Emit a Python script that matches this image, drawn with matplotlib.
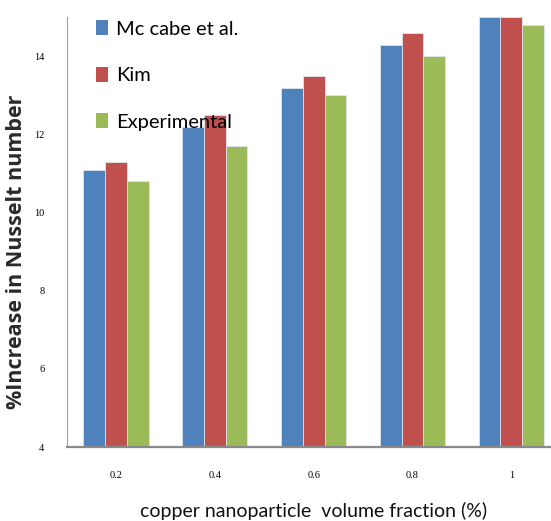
import matplotlib
matplotlib.use("Agg")
import matplotlib.pyplot as plt
import numpy as np
from matplotlib.patches import Patch

categories = ["0.2", "0.4", "0.6", "0.8", "1"]
mccabe = [11.1, 12.2, 13.2, 14.3, 15.0]
kim = [11.3, 12.5, 13.5, 14.6, 15.0]
experimental = [10.8, 11.7, 13.0, 14.0, 14.8]
series_names = ["Mc cabe et al.", "Kim", "Experimental"]
colors = ["#4F81BD", "#C0504D", "#9BBB59"]
yticks = [4, 6, 8, 10, 12, 14]

fig = plt.figure(figsize=(5.51, 5.21), dpi=100)
ax = fig.add_axes([0.121, 0.142, 0.8966, 0.825])

x = np.arange(len(categories))
w = 0.22
for i, (vals, c) in enumerate(zip([mccabe, kim, experimental], colors)):
    ax.bar(x + (i - 1) * w, vals, width=w, color=c, edgecolor="#dfe6ee",
           linewidth=0.6, zorder=2)

ax.set_xlim(-0.5, 4.5)
ax.set_ylim(4, 15)
ax.set_yticks(yticks)
ax.set_yticklabels([str(t) for t in yticks], fontsize=7.5, family="Liberation Serif")
ax.set_xticks(x)
ax.set_xticklabels(categories, fontsize=7.5, family="Liberation Serif")
ax.tick_params(axis="x", length=0, pad=17)
ax.tick_params(axis="y", length=0, pad=16)

for s in ["top", "right"]:
    ax.spines[s].set_visible(False)
ax.spines["left"].set_color("#a0a0a0")
ax.spines["left"].set_linewidth(0.8)
ax.spines["bottom"].set_color("#8a8a8a")
ax.spines["bottom"].set_linewidth(1.6)

ax.set_ylabel("%Increase in Nusselt number", fontsize=15.5, fontweight="bold",
              family=["Open Sans", "DejaVu Sans"], color="#2a2a2a")
ax.yaxis.set_label_coords(-0.08, 0.453)
ax.set_xlabel("copper nanoparticle  volume fraction (%)", fontsize=14,
              family=["Lato", "DejaVu Sans"], color="#111111")
ax.xaxis.set_label_coords(0.5, -0.128)

handles = [Patch(facecolor=c, edgecolor="none") for c in colors]
ax.legend(handles, series_names, loc="upper left", bbox_to_anchor=(0.022, 1.035),
          frameon=False, labelspacing=1.45, handlelength=0.6,
          handleheight=0.75, handletextpad=0.4,
          prop={"family": ["Lato", "DejaVu Sans"], "size": 14.5})

fig.savefig("out.png", dpi=100)
